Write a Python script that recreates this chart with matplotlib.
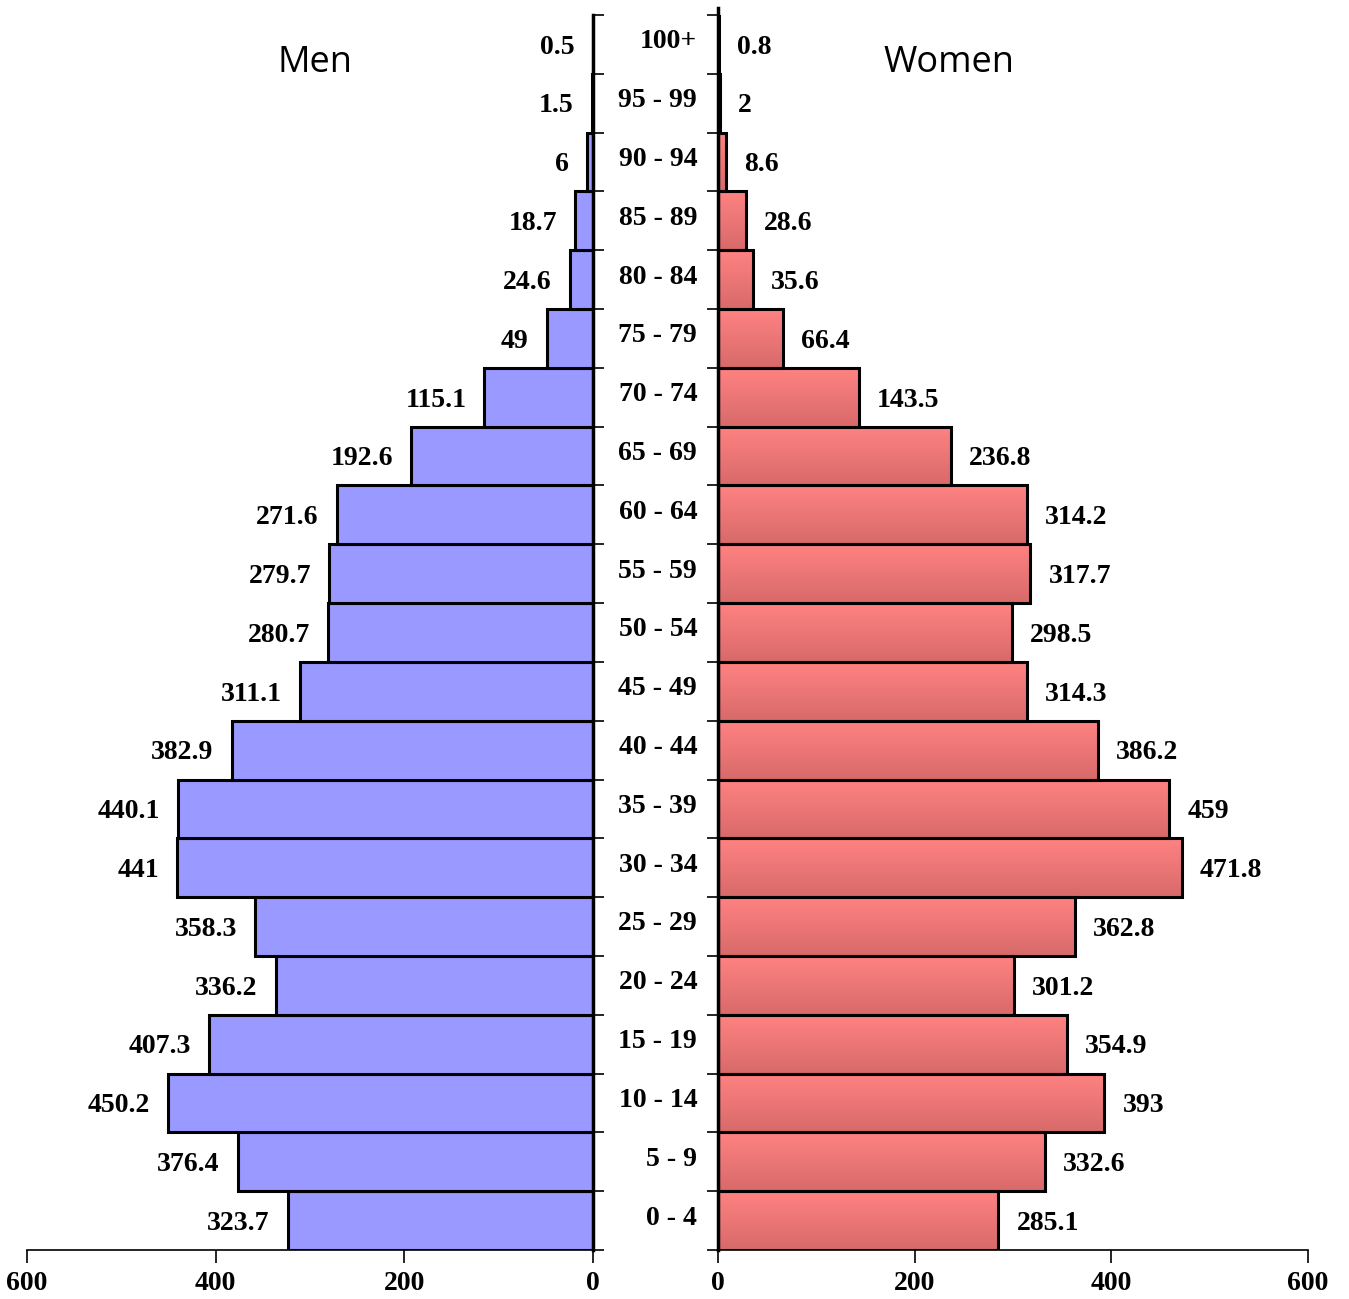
import numpy as np
import matplotlib.pyplot as plt
from matplotlib.colors import LinearSegmentedColormap
from matplotlib.transforms import ScaledTranslation

ages = ["0 - 4", "5 - 9", "10 - 14", "15 - 19", "20 - 24", "25 - 29", "30 - 34",
        "35 - 39", "40 - 44", "45 - 49", "50 - 54", "55 - 59", "60 - 64", "65 - 69",
        "70 - 74", "75 - 79", "80 - 84", "85 - 89", "90 - 94", "95 - 99", "100+"]
men = [323.7, 376.4, 450.2, 407.3, 336.2, 358.3, 441, 440.1, 382.9, 311.1, 280.7,
       279.7, 271.6, 192.6, 115.1, 49, 24.6, 18.7, 6, 1.5, 0.5]
women = [285.1, 332.6, 393, 354.9, 301.2, 362.8, 471.8, 459, 386.2, 314.3, 298.5,
         317.7, 314.2, 236.8, 143.5, 66.4, 35.6, 28.6, 8.6, 2, 0.8]
xticks = [0, 200, 400, 600]

W, H = 1349, 1299
fig = plt.figure(figsize=(W / 100, H / 100), dpi=100)
serif = dict(family="Liberation Serif", weight="bold", size=20)

y = np.arange(len(ages))
bottom = 1 - 1250 / H
height = (1250 - 15) / H

axL = fig.add_axes([27 / W, bottom, 566 / W, height])
axR = fig.add_axes([718 / W, bottom, 590 / W, height])

# men
axL.barh(y, men, height=1.0, color="#9999FF", edgecolor="black", linewidth=2.2)
axL.set_xlim(600, 0)
for yi, v in zip(y, men):
    axL.annotate(f"{v:g}", (v, yi), xytext=(-13, -2), textcoords="offset points",
                 ha="right", va="center", **serif)

# women, with a vertical gradient fill
bars = axR.barh(y, women, height=1.0, color="none", edgecolor="black",
                linewidth=2.2, zorder=3)
cmap = LinearSegmentedColormap.from_list("g", ["#FF8282", "#D86A6A"])
grad = np.linspace(0, 1, 64).reshape(-1, 1)
for b in bars:
    x0, y0 = b.get_x(), b.get_y()
    axR.imshow(grad, cmap=cmap, aspect="auto", origin="upper",
               extent=(x0, x0 + b.get_width(), y0, y0 + b.get_height()),
               zorder=2)
axR.set_xlim(0, 600)
for yi, v in zip(y, women):
    axR.annotate(f"{v:g}", (v, yi), xytext=(13, -2), textcoords="offset points",
                 ha="left", va="center", **serif)

for ax in (axL, axR):
    ax.set_ylim(-0.5, len(ages) - 0.5)
    ax.set_xticks(xticks)
    ax.set_xticklabels([str(t) for t in xticks], fontdict=serif)
    ax.set_yticks(np.arange(len(ages) + 1) - 0.5)
    ax.set_yticklabels([])
    ax.tick_params(axis="y", length=8, width=1.2)
    ax.tick_params(axis="x", length=9, width=1.2, pad=6)
    ax.spines["top"].set_visible(False)
    ax.spines["bottom"].set_linewidth(1.2)

axL.spines["left"].set_visible(False)
axL.spines["right"].set_linewidth(2.5)
axL.yaxis.tick_right()
axR.spines["right"].set_visible(False)
axR.spines["left"].set_linewidth(2.5)
axR.spines["left"].set_bounds(-0.5, len(ages) - 0.38)

# age group labels, nudged up a little
axR.set_yticks(y, minor=True)
axR.set_yticklabels(ages, minor=True, fontdict=serif)
axR.tick_params(axis="y", which="minor", length=0, pad=15)
shift = ScaledTranslation(0, 4 / 72, fig.dpi_scale_trans)
for lab in axR.get_yticklabels(minor=True):
    lab.set_transform(lab.get_transform() + shift)

fig.text(315 / W, 1 - 63 / H, "Men", ha="center", va="center",
         family="Open Sans", size=26)
fig.text(949 / W, 1 - 63 / H, "Women", ha="center", va="center",
         family="Open Sans", size=26)

fig.savefig("out.png", dpi=100)
